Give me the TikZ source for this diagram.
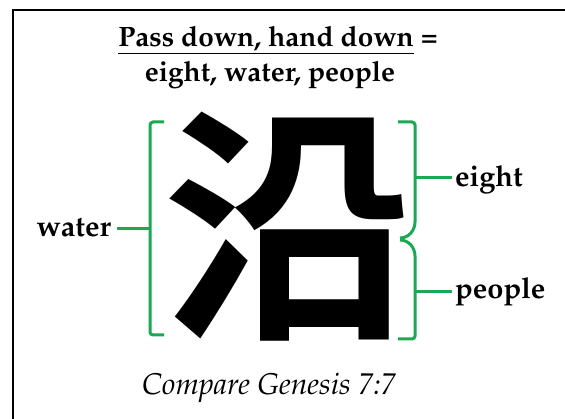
\documentclass[tikz,border=0pt]{standalone}
\usepackage[T1]{fontenc}
\usepackage{fontspec}
\newfontfamily\cjk{Noto Sans CJK SC}[BoldFont={* Bold}]
\newcommand\palfont{\fontencoding{T1}\fontfamily{ppl}\selectfont}
\definecolor{brgreen}{RGB}{28,168,82}
\tikzset{
  x=1pt,y=1pt,
  brk/.style={draw=brgreen,line width=3pt},
  lbl/.style={font=\palfont\fontsize{28}{30}\bfseries\selectfont,inner sep=0pt,anchor=base},
  sidelbl/.style={font=\palfont\fontsize{29}{31}\bfseries\selectfont,inner sep=0pt},
}
\begin{document}
\begin{tikzpicture}
\useasboundingbox (0,0) rectangle (565,-419);
\fill[white] (0,0) rectangle (565,-419);
% frame
\draw[line width=2pt] (13,-419) -- (13,-10) -- (566,-10);
% title
\node[lbl] (t1) at (278,-47) {\underline{Pass down, hand down} =};
\node[lbl] (t2) at (270,-82) {eight, water, people};
% character
\node[font=\cjk\fontsize{250}{250}\bfseries\selectfont,inner sep=0pt] (ch) at (288,-227) {沿};
% left bracket
\draw[brk,rounded corners=3pt] (164,-122) -- (150,-122) -- (150,-335) -- (164,-335);
\coordinate (lb) at (150,-229);
\node[sidelbl,anchor=base east] (water) at (111,-237) {water};
\draw[brk] (117,-229) -- (lb);
% right top bracket
\draw[brk,rounded corners=3pt] (398,-122) -- (415,-122) -- (415,-222);
\draw[brk] (415,-222) to[out=-90,in=0] (400,-238);
\coordinate (rt) at (415,-178);
\node[sidelbl,anchor=base west] (eight) at (455,-187) {eight};
\draw[brk] (rt) -- (452,-178);
% right bottom bracket
\draw[brk] (400,-240) to[out=0,in=90] (415,-256);
\draw[brk,rounded corners=3pt] (415,-256) -- (415,-339) -- (398,-339);
\coordinate (rb) at (415,-292);
\node[sidelbl,anchor=base west] (people) at (455,-299) {people};
\draw[brk] (rb) -- (452,-292);
% caption
\node[font=\palfont\fontsize{30}{32}\itshape\selectfont,inner sep=0pt,anchor=base] (cap) at (269,-395) {Compare Genesis 7:7};
\end{tikzpicture}
\end{document}
